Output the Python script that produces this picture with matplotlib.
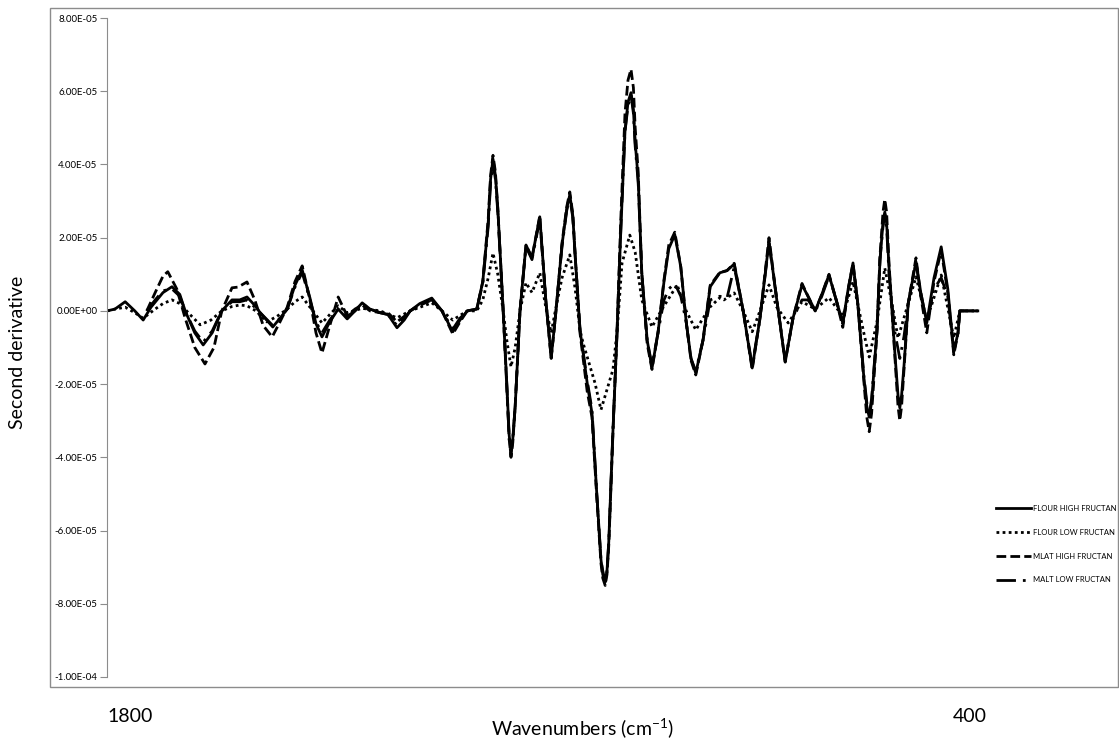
import matplotlib.pyplot as plt
import numpy as np
from matplotlib.patches import Rectangle

plt.rcParams['font.family'] = ['Lato', 'DejaVu Sans']
plt.rcParams['mathtext.default'] = 'regular'

SCALE = 1e-5  # second-derivative values below are in units of 1e-5

# (wavenumber, value)
flour_high = [
    (1838, 0.0), (1825, 0.05), (1808, 0.25), (1792, 0.0), (1778, -0.25), (1765, 0.1), (1745, 0.5),
    (1730, 0.66), (1717, 0.45), (1708, 0.0), (1692, -0.6), (1678, -0.93), (1663, -0.6), (1647, 0.0),
    (1630, 0.3), (1617, 0.3), (1605, 0.38), (1592, 0.15), (1583, -0.05), (1562, -0.44), (1550, -0.2),
    (1538, 0.05), (1525, 0.7), (1513, 1.12), (1500, 0.35), (1490, -0.35), (1480, -0.71), (1467, -0.3),
    (1453, 0.05), (1438, -0.22), (1425, 0.0), (1413, 0.22), (1400, 0.05), (1383, -0.05), (1370, -0.1),
    (1355, -0.46), (1343, -0.25), (1333, 0.0), (1317, 0.2), (1297, 0.35), (1280, 0.0), (1262, -0.57),
    (1250, -0.25), (1238, 0.0), (1222, 0.05), (1212, 0.8), (1203, 2.4), (1199, 3.6), (1195, 4.15),
    (1191, 3.7), (1187, 2.8), (1178, 0.0), (1172, -2.0), (1168, -3.4), (1165, -3.85), (1162, -3.5),
    (1158, -2.6), (1150, 0.0), (1140, 1.8), (1130, 1.45), (1117, 2.57), (1107, 0.3), (1098, -1.28),
    (1090, 0.0), (1080, 1.8), (1072, 2.8), (1067, 3.17), (1062, 2.6), (1058, 1.5), (1050, -0.52),
    (1038, -1.97), (1030, -2.8), (1022, -5.0), (1015, -6.8), (1012, -7.2), (1008, -7.4), (1005, -7.1),
    (1002, -6.3), (995, -3.25), (988, -0.5), (982, 2.2), (975, 4.9), (970, 5.7), (965, 5.96), (961, 5.5),
    (958, 4.6), (953, 3.6), (947, 1.04), (938, -0.8), (930, -1.56), (920, -0.6), (910, 0.8), (902, 1.7),
    (892, 2.08), (882, 1.2), (873, -0.3), (865, -1.3), (857, -1.7), (845, -0.8), (833, 0.66), (817, 1.04),
    (805, 1.1), (793, 1.28), (778, 0.0), (763, -1.56), (750, -0.2), (735, 1.9), (722, 0.3), (708, -1.39),
    (695, -0.2), (680, 0.71), (670, 0.4), (658, 0.0), (647, 0.45), (635, 0.98), (623, 0.3), (612, -0.33),
    (603, 0.6), (595, 1.31), (587, 0.2), (577, -1.8), (572, -2.6), (568, -2.9), (564, -2.5), (555, -0.5),
    (550, 1.4), (545, 2.4), (542, 2.7), (539, 2.4), (535, 1.2), (525, -1.2), (520, -2.3), (517, -2.65),
    (514, -2.3), (510, -1.5), (503, 0.2), (490, 1.34), (482, 0.5), (472, -0.33), (460, 0.9), (448, 1.75),
    (437, 0.6), (427, -1.12), (420, -0.6), (417, 0.0), (387, 0.0),
]

flour_low = [
    (1838, 0.0), (1825, 0.05), (1808, 0.1), (1792, -0.05), (1778, -0.2), (1758, 0.05), (1745, 0.2),
    (1730, 0.3), (1717, 0.2), (1700, -0.1), (1683, -0.38), (1665, -0.25), (1647, 0.0), (1630, 0.12),
    (1617, 0.16), (1605, 0.14), (1590, 0.0), (1572, -0.3), (1555, -0.15), (1538, 0.05), (1525, 0.25),
    (1513, 0.38), (1500, 0.1), (1480, -0.33), (1467, -0.1), (1453, 0.14), (1438, -0.05), (1413, 0.07),
    (1383, 0.0), (1355, -0.19), (1333, 0.0), (1297, 0.22), (1280, 0.0), (1262, -0.25), (1238, 0.0),
    (1222, 0.0), (1212, 0.3), (1203, 0.9), (1195, 1.58), (1187, 1.0), (1178, 0.0), (1172, -0.8),
    (1165, -1.53), (1158, -1.0), (1150, 0.0), (1140, 0.77), (1130, 0.5), (1117, 1.04), (1107, 0.1),
    (1098, -0.6), (1090, 0.1), (1080, 0.9), (1067, 1.53), (1058, 0.6), (1050, -0.52), (1045, -0.87),
    (1025, -1.97), (1015, -2.7), (995, -1.6), (988, -0.52), (980, 1.3), (967, 2.07), (958, 1.6),
    (947, 0.3), (930, -0.44), (915, 0.0), (888, 0.71), (873, 0.0), (857, -0.52), (833, 0.11),
    (817, 0.36), (810, 0.3), (793, 0.49), (778, 0.0), (763, -0.57), (750, 0.0), (735, 0.71), (722, 0.1),
    (703, -0.33), (680, 0.25), (658, 0.05), (635, 0.36), (612, -0.15), (595, 0.8), (577, -0.6),
    (568, -1.26), (555, -0.3), (542, 1.17), (530, 0.2), (520, -0.74), (503, 0.2), (490, 0.93),
    (472, -0.25), (448, 0.98), (427, -0.74), (417, 0.0), (387, 0.0),
]

mlat_high = [
    (1772, 0.0), (1758, 0.5), (1745, 0.95), (1737, 1.07), (1722, 0.6), (1708, -0.2), (1692, -1.0),
    (1675, -1.45), (1660, -1.0), (1647, 0.0), (1630, 0.63), (1620, 0.65), (1605, 0.79), (1592, 0.3),
    (1578, -0.4), (1563, -0.71), (1550, -0.3), (1538, 0.1), (1525, 0.8), (1513, 1.23), (1500, 0.3),
    (1490, -0.6), (1480, -1.15), (1467, -0.4), (1453, 0.38), (1438, -0.14), (1425, 0.05), (1413, 0.16),
    (1400, 0.0), (1383, -0.05), (1370, -0.05), (1355, -0.3), (1343, -0.15), (1333, 0.0), (1317, 0.15),
    (1297, 0.3), (1280, 0.0), (1262, -0.63), (1250, -0.3), (1238, 0.0), (1222, 0.05), (1212, 0.8),
    (1203, 2.5), (1199, 3.7), (1195, 4.25), (1191, 3.8), (1187, 2.8), (1178, 0.0), (1172, -2.1),
    (1168, -3.5), (1165, -4.0), (1162, -3.6), (1158, -2.6), (1150, 0.0), (1140, 1.8), (1130, 1.45),
    (1117, 2.6), (1107, 0.3), (1098, -1.3), (1090, 0.0), (1080, 1.85), (1072, 2.85), (1067, 3.25),
    (1062, 2.65), (1058, 1.5), (1050, -0.6), (1038, -2.2), (1030, -2.9), (1022, -5.1), (1015, -6.9),
    (1012, -7.3), (1008, -7.5), (1005, -7.2), (1002, -6.4), (995, -3.3), (988, -0.4), (982, 2.5),
    (975, 5.4), (970, 6.3), (965, 6.6), (961, 6.1), (958, 5.0), (953, 3.8), (947, 1.0), (938, -0.9),
    (930, -1.6), (920, -0.6), (910, 0.85), (902, 1.8), (892, 2.15), (882, 1.2), (873, -0.3), (865, -1.35),
    (857, -1.75), (845, -0.8), (833, 0.7), (817, 1.05), (805, 1.1), (793, 1.3), (778, 0.0), (763, -1.6),
    (750, -0.2), (735, 2.0), (722, 0.3), (708, -1.4), (695, -0.2), (680, 0.75), (670, 0.4), (658, 0.0),
    (647, 0.45), (635, 1.0), (623, 0.3), (612, -0.45), (603, 0.6), (595, 1.3), (587, 0.2), (577, -1.9),
    (572, -2.9), (568, -3.3), (564, -2.8), (555, -0.6), (550, 1.5), (545, 2.7), (542, 3.05), (539, 2.7),
    (535, 1.3), (525, -1.3), (520, -2.6), (517, -3.0), (514, -2.6), (510, -1.6), (503, 0.2), (490, 1.45),
    (482, 0.4), (472, -0.6), (460, 0.8), (448, 1.65), (437, 0.5), (427, -1.2), (420, -0.6), (417, 0.0),
    (387, 0.0),
]

malt_low = [
    (1772, 0.0), (1758, 0.3), (1745, 0.55), (1730, 0.6), (1717, 0.4), (1708, 0.0), (1692, -0.55),
    (1678, -0.85), (1663, -0.55), (1647, 0.0), (1630, 0.25), (1617, 0.25), (1605, 0.3), (1592, 0.1),
    (1583, -0.05), (1562, -0.4), (1550, -0.2), (1538, 0.05), (1525, 0.65), (1513, 1.05), (1500, 0.3),
    (1490, -0.3), (1480, -0.6), (1467, -0.25), (1453, 0.05), (1438, -0.15), (1425, 0.0), (1413, 0.2),
    (1400, 0.05), (1383, -0.05), (1370, -0.1), (1355, -0.4), (1343, -0.2), (1333, 0.0), (1317, 0.18),
    (1297, 0.3), (1280, 0.0), (1262, -0.5), (1250, -0.2), (1238, 0.0), (1222, 0.05), (1212, 0.75),
    (1203, 2.3), (1199, 3.5), (1195, 4.05), (1191, 3.6), (1187, 2.7), (1178, 0.0), (1172, -2.0),
    (1168, -3.5), (1165, -3.95), (1162, -3.5), (1158, -2.6), (1150, 0.0), (1140, 1.75), (1130, 1.4),
    (1117, 2.5), (1107, 0.3), (1098, -1.25), (1090, 0.0), (1080, 1.75), (1072, 2.75), (1067, 3.1),
    (1062, 2.55), (1058, 1.5), (1050, -0.5), (1038, -1.9), (1030, -2.7), (1022, -5.0), (1015, -6.8),
    (1012, -7.1), (1008, -7.4), (1005, -7.1), (1002, -6.3), (995, -3.2), (988, -0.5), (982, 2.2),
    (975, 4.9), (970, 5.6), (965, 5.9), (961, 5.4), (958, 4.5), (953, 3.5), (947, 1.0), (938, -0.8),
    (930, -1.5), (920, -0.6), (910, 0.3), (902, 0.6), (892, 0.75), (882, 0.4), (873, -0.3), (865, -1.3),
    (857, -1.65), (845, -0.8), (833, 0.3), (817, 0.4), (805, 0.35), (793, 1.2), (778, 0.0), (763, -1.5),
    (750, -0.2), (735, 1.85), (722, 0.3), (708, -1.35), (695, -0.2), (680, 0.3), (670, 0.3), (658, 0.0),
    (647, 0.4), (635, 0.95), (623, 0.3), (612, -0.35), (603, 0.55), (595, 1.25), (587, 0.2), (577, -1.75),
    (572, -2.5), (568, -2.85), (564, -2.4), (555, -0.5), (550, 1.4), (545, 2.3), (542, 2.65), (539, 2.3),
    (535, 1.0), (525, -0.6), (517, -1.3), (510, -0.7), (503, 0.2), (490, 1.3), (482, 0.5), (472, -0.35),
    (460, 0.6), (448, 0.9), (437, 0.4), (427, -1.1), (420, -0.6), (417, 0.0), (387, 0.0),
]

labels = ["FLOUR HIGH FRUCTAN", "FLOUR LOW FRUCTAN", "MLAT HIGH FRUCTAN", "MALT LOW FRUCTAN"]
styles = ["-", (0, (1, 1.2)), (0, (3.5, 1.5)), (0, (7, 2.5, 1, 2.5))]
y_ticks = [-1e-4, -8e-5, -6e-5, -4e-5, -2e-5, 0.0, 2e-5, 4e-5, 6e-5, 8e-5]
x_ticks = [1800, 400]

W, H = 1119, 745
fig = plt.figure(figsize=(W / 100, H / 100), dpi=100)

# chart area border
fig.patches.append(Rectangle((50 / W, 1 - 687 / H), 1068 / W, 679 / H, transform=fig.transFigure,
                             fill=False, edgecolor="#8c8c8c", linewidth=1.0))

ax = fig.add_axes([107 / W, 1 - 677 / H, 878 / W, 659 / H])
for data, label, ls in zip([flour_high, flour_low, mlat_high, malt_low], labels, styles):
    wn, vals = zip(*data)
    ax.plot(wn, np.array(vals) * SCALE, color="black", linestyle=ls, linewidth=2.0,
            solid_joinstyle="round", label=label)

ax.set_xlim(1838.3, 375)
ax.set_ylim(-1e-4, 8e-5)
ax.set_yticks(y_ticks)
ax.yaxis.set_major_formatter(plt.FuncFormatter(lambda v, p: "0.00E+00" if abs(v) < 1e-12 else f"{v:.2E}"))
ax.set_xticks(x_ticks)
ax.set_xticklabels([str(t) for t in x_ticks])
ax.tick_params(axis="x", length=0, pad=22, labelsize=14)
ax.tick_params(axis="y", length=5, width=0.8, color="#8c8c8c", labelsize=7, pad=2)
for s in ["top", "right", "bottom"]:
    ax.spines[s].set_visible(False)
ax.spines["left"].set_color("#8c8c8c")

fig.text(583 / W, 1 - 728 / H, "Wavenumbers (cm$^{-1}$)", ha="center", va="center", fontsize=14)
fig.text(18 / W, 1 - 352 / H, "Second derivative", ha="center", va="center", rotation=90, fontsize=14)

fig.legend(loc="upper left", bbox_to_anchor=(993 / W, 1 - 502 / H), frameon=False, fontsize=5.5,
           handlelength=4.6, handletextpad=0.2, labelspacing=2.2, borderaxespad=0)

fig.savefig("out.png", dpi=100)
